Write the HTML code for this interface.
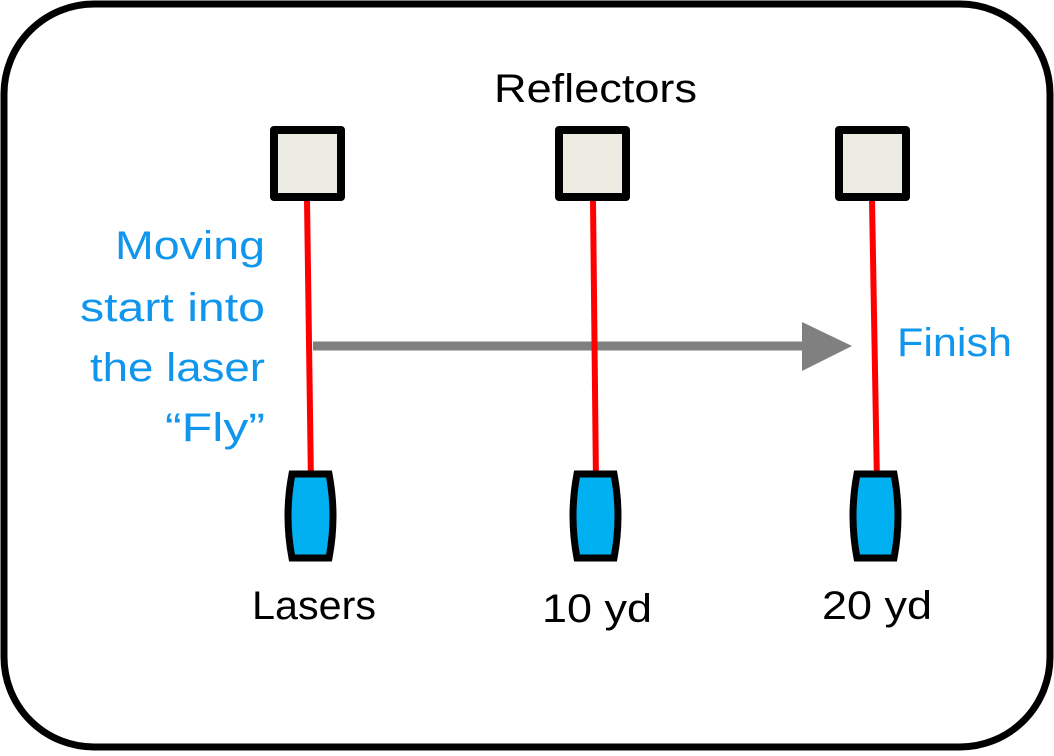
<!DOCTYPE html>
<html><head><style>
body{margin:0;background:#fff;}
svg text{font-family:"Liberation Sans",sans-serif;}
</style></head><body>
<svg width="1054" height="751" xmlns="http://www.w3.org/2000/svg">
<rect x="4" y="4" width="1046" height="743" rx="90" ry="90" fill="#fff" stroke="#000" stroke-width="7"/>
<text x="494" y="102" font-size="40" fill="#000" textLength="203" lengthAdjust="spacingAndGlyphs">Reflectors</text>
<g font-size="40" fill="#1196ee">
<text x="115" y="259" textLength="150" lengthAdjust="spacingAndGlyphs">Moving</text>
<text x="80" y="321" textLength="185" lengthAdjust="spacingAndGlyphs">start into</text>
<text x="90" y="381" textLength="175" lengthAdjust="spacingAndGlyphs">the laser</text>
<text x="165" y="441" textLength="100" lengthAdjust="spacingAndGlyphs">“Fly”</text>
</g>
<text x="897" y="356" font-size="40" fill="#1196ee" textLength="115" lengthAdjust="spacingAndGlyphs">Finish</text>
<line x1="313" y1="346" x2="804" y2="346" stroke="#808080" stroke-width="9"/>
<polygon points="802,322 852,346 802,371" fill="#808080"/>
<g stroke="#ff0000" stroke-width="6">
<line x1="307" y1="200" x2="311" y2="484"/>
<line x1="593" y1="200" x2="596" y2="484"/>
<line x1="872" y1="200" x2="877" y2="484"/>
</g>
<g fill="#ecebe1" stroke="#000" stroke-width="8" stroke-linejoin="round">
<rect x="274" y="130" width="67" height="67"/>
<rect x="559" y="130" width="67" height="67"/>
<rect x="839" y="130" width="67" height="67"/>
</g>
<g fill="#00b0f0" stroke="#000" stroke-width="7">
<path d="M292,474 L329,474 Q337,516 329,558 L292,558 Q284,516 292,474 Z"/>
<path d="M577,474 L614,474 Q622,516 614,558 L577,558 Q569,516 577,474 Z"/>
<path d="M857,474 L894,474 Q902,516 894,558 L857,558 Q849,516 857,474 Z"/>
</g>
<g font-size="40" fill="#000">
<text x="252" y="619" textLength="124" lengthAdjust="spacingAndGlyphs">Lasers</text>
<text x="542" y="622" textLength="110" lengthAdjust="spacingAndGlyphs">10 yd</text>
<text x="822" y="619" textLength="110" lengthAdjust="spacingAndGlyphs">20 yd</text>
</g>
</svg>
</body></html>
